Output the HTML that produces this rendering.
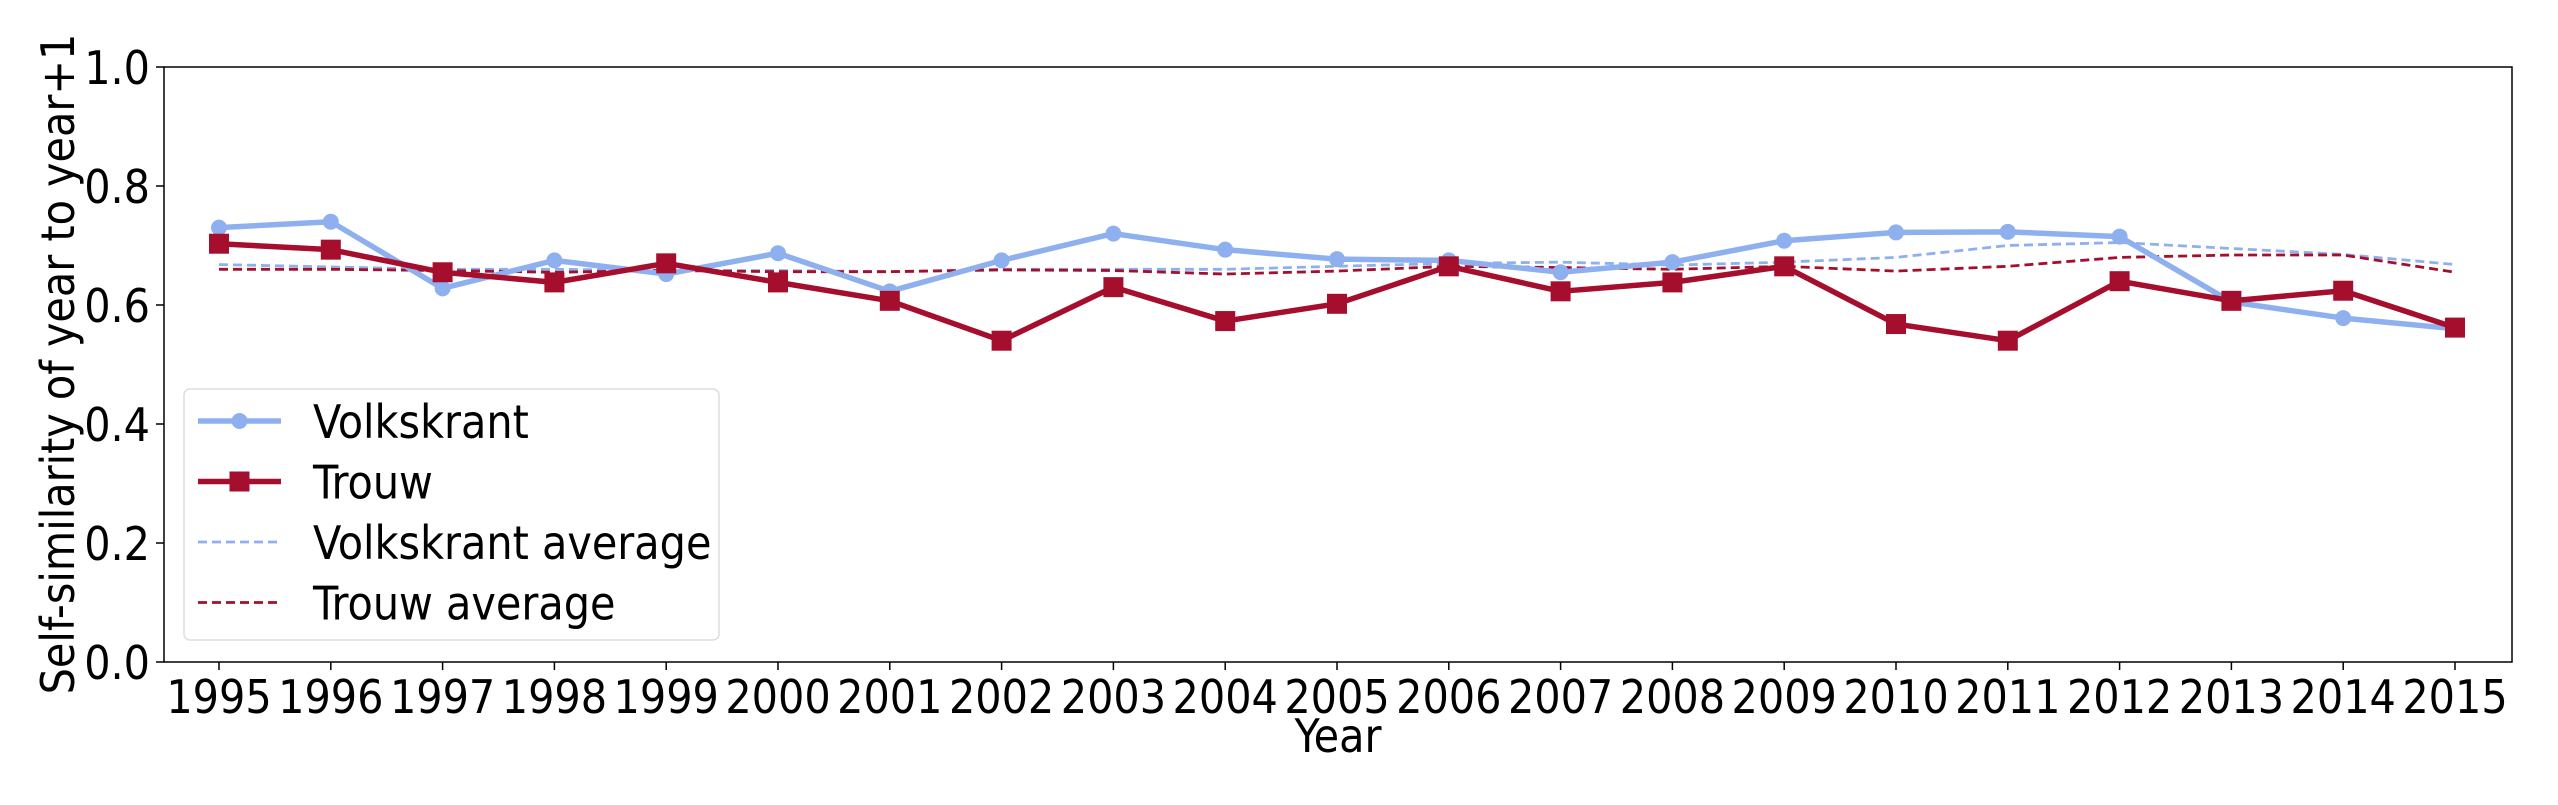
<!DOCTYPE html>
<html><head><meta charset="utf-8"><style>
body{margin:0;background:#fff}
svg text{font-family:"DejaVu Sans Condensed","DejaVu Sans","Liberation Sans",sans-serif;font-stretch:condensed;fill:#000}
</style></head><body>
<svg id="c" width="2558" height="800" xmlns="http://www.w3.org/2000/svg"></svg>
<script>
const years=[1995,1996,1997,1998,1999,2000,2001,2002,2003,2004,2005,2006,2007,2008,2009,2010,2011,2012,2013,2014,2015];
const volkskrant=[.73,.74,.628,.675,.652,.687,.623,.675,.72,.693,.677,.675,.655,.672,.708,.722,.723,.715,.605,.578,.56];
const trouw=[.703,.693,.655,.638,.67,.638,.607,.54,.63,.573,.602,.665,.623,.638,.665,.568,.54,.64,.607,.624,.562];
const volkskrantAvg=[.668,.664,.66,.66,.658,.658,.656,.66,.66,.66,.665,.67,.672,.667,.672,.68,.70,.705,.695,.685,.668];
const trouwAvg=[.66,.66,.658,.655,.658,.656,.656,.659,.658,.652,.657,.665,.663,.66,.665,.657,.665,.68,.684,.684,.655];
const yTicks=[0,0.2,0.4,0.6,0.8,1.0];
const L=164,R=2512,T=67,B=662;
const X=i=>219+i*(2455-219)/(years.length-1);
const Y=v=>B-(B-T)*v;
const svg=document.getElementById('c');
const NS='http://www.w3.org/2000/svg';
function mk(t,a,p){const e=document.createElementNS(NS,t);for(const k in a)e.setAttribute(k,a[k]);(p||svg).appendChild(e);return e;}
yTicks.forEach(v=>{
 const l=mk('line',{x1:L-8,x2:L,y1:Y(v),y2:Y(v),stroke:'#000','stroke-width':1.5});
 
 
 const t=mk('text',{x:L-14,y:Y(v)+17,'text-anchor':'end','font-size':46});
 t.textContent=v.toFixed(1);
 
 
});
years.forEach((y,i)=>{
 const l=mk('line',{x1:X(i),x2:X(i),y1:B,y2:B+8,stroke:'#000','stroke-width':1.5});
 
 
 const t=mk('text',{x:X(i),y:B+51,'text-anchor':'middle','font-size':46});
 t.textContent=y;
 
 
});
const pts=a=>a.map((v,i)=>X(i)+','+Y(v)).join(' ');
let e;
e=mk('polyline',{points:pts(volkskrantAvg),fill:'none',stroke:'#8fb0ef','stroke-width':2.8,'stroke-dasharray':'9,5'});


e=mk('polyline',{points:pts(trouwAvg),fill:'none',stroke:'#a50f2d','stroke-width':2.8,'stroke-dasharray':'9,5'});


e=mk('polyline',{points:pts(volkskrant),fill:'none',stroke:'#8fb0ef','stroke-width':5.5,'stroke-linejoin':'round'});


volkskrant.forEach((v,i)=>{const c=mk('circle',{cx:X(i),cy:Y(v),r:8,fill:'#8fb0ef'});
 
 });
e=mk('polyline',{points:pts(trouw),fill:'none',stroke:'#a50f2d','stroke-width':5.5,'stroke-linejoin':'round'});


trouw.forEach((v,i)=>{const s=mk('rect',{x:X(i)-10,y:Y(v)-10,width:20,height:20,fill:'#a50f2d'});
 
 });
e=mk('rect',{x:L,y:T,width:R-L,height:B-T,fill:'none',stroke:'#000','stroke-width':1.5});


e=mk('text',{x:(L+R)/2,y:752,'text-anchor':'middle','font-size':46});e.textContent='Year';


e=mk('text',{x:0,y:0,'text-anchor':'middle','font-size':46,transform:'translate(74,364) rotate(-90)'});e.textContent='Self-similarity of year to year+1';


const g=mk('g',{});


mk('rect',{x:184,y:389,width:535,height:251,rx:6,fill:'#fff','fill-opacity':0.8,stroke:'#ddd','stroke-width':1.5},g);
const leg=[['Volkskrant','#8fb0ef','solid','c'],['Trouw','#a50f2d','solid','s'],['Volkskrant average','#8fb0ef','dash',''],['Trouw average','#a50f2d','dash','']];
leg.forEach((d,k)=>{
 const y=421+k*60.5;
 const ent=mk('g',{},g);
 
 
 mk('line',{x1:198,x2:281,y1:y,y2:y,stroke:d[1],'stroke-width':d[2]=='solid'?5.5:2.8,'stroke-dasharray':d[2]=='solid'?'none':'9,5'},ent);
 if(d[3]=='c')mk('circle',{cx:239.5,cy:y,r:8,fill:d[1]},ent);
 if(d[3]=='s')mk('rect',{x:229.5,y:y-10,width:20,height:20,fill:d[1]},ent);
 const t=mk('text',{x:313,y:y+17,'font-size':46},ent);t.textContent=d[0];
});
</script>
</body></html>
